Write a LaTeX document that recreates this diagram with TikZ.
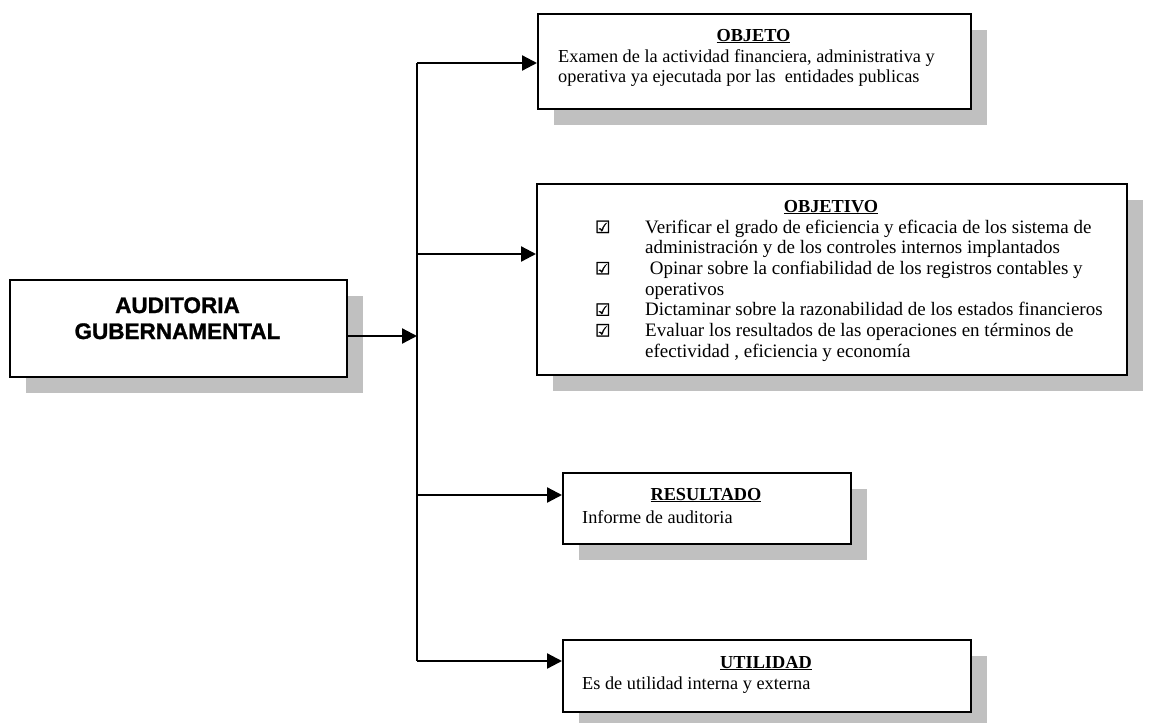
\documentclass[tikz,border=0pt]{standalone}
\usepackage{fontspec}
\setmainfont{Liberation Serif}
\newfontfamily\headfont[FakeBold=1.2]{Liberation Sans Bold}
\newfontfamily\boxsymfont[FakeBold=1.5]{DejaVu Sans}
\usetikzlibrary{arrows.meta,shadows}
\definecolor{shadowgray}{HTML}{C0C0C0}
% ballot box with check used as list bullet
\newcommand{\chk}{{\boxsymfont\fontsize{17}{17}\selectfont\symbol{"2611}}}

\tikzset{
  box/.style={draw=black, line width=2.2pt, fill=white, inner sep=0pt,
    anchor=north west,
    drop shadow={shadow xshift=16pt, shadow yshift=-16pt,
      fill=shadowgray, opacity=1}},
  wire/.style={line width=2.3pt},
  link/.style={line width=2.3pt, -{Triangle[length=15pt,width=15pt]}},
  head/.style={font=\bfseries\fontsize{18.3}{20.7}\selectfont,
    anchor=base, inner sep=0pt},
  body/.style={font=\fontsize{18.3}{20.7}\selectfont,
    anchor=base west, inner sep=0pt},
  listbody/.style={font=\fontsize{19}{20.7}\selectfont,
    anchor=base west, inner sep=0pt},
  maintext/.style={font=\headfont\fontsize{22.5}{26}\selectfont,
    anchor=base, inner sep=0pt}
}

\begin{document}
\begin{tikzpicture}[x=1pt,y=-1pt]
\useasboundingbox (0,0) rectangle (1160,723);

% boxes
\node[box, minimum width=337pt, minimum height=97pt]  (main)      at (9,279)   {};
\node[box, minimum width=433pt, minimum height=95pt]  (objeto)    at (537,13)  {};
\node[box, minimum width=590pt, minimum height=191pt] (objetivo)  at (536,183) {};
\node[box, minimum width=288pt, minimum height=71pt]  (resultado) at (562,472) {};
\node[box, minimum width=408pt, minimum height=72pt]  (utilidad)  at (562,639) {};

% main title
\node[maintext] (mainlabel) at (177.5,313)
  {\begin{tabular}[t]{@{}c@{}}AUDITORIA\\GUBERNAMENTAL\end{tabular}};

% OBJETO
\node[head] (objetoT) at (753.5,41) {\underline{OBJETO}};
\node[body] (objetoB) at (558,62)
  {\begin{tabular}[t]{@{}l@{}}Examen de la actividad financiera, administrativa y\\
   operativa ya ejecutada por las\ \ entidades publicas\end{tabular}};

% OBJETIVO
\node[head] (objetivoT) at (831,212) {\underline{OBJETIVO}};
\node[listbody] (objetivoB) at (595,233)
  {\begin{tabular}[t]{@{}p{50pt}@{}l@{}}
   \chk & Verificar el grado de eficiencia y eficacia de los sistema de\\
        & administración y de los controles internos implantados\\
   \chk & \ Opinar sobre la confiabilidad de los registros contables y\\
        & operativos\\
   \chk & Dictaminar sobre la razonabilidad de los estados financieros\\
   \chk & Evaluar los resultados de las operaciones en términos de\\
        & efectividad , eficiencia y economía
   \end{tabular}};

% RESULTADO
\node[head] (resultadoT) at (706,500) {\underline{RESULTADO}};
\node[body] (resultadoB) at (582,523) {Informe de auditoria};

% UTILIDAD
\node[head] (utilidadT) at (766,668) {\underline{UTILIDAD}};
\node[body] (utilidadB) at (582,689) {Es de utilidad interna y externa};

% branching connector
\coordinate (j1) at (417,63);
\coordinate (j2) at (417,254);
\coordinate (jm) at (417,336);
\coordinate (j3) at (417,495);
\coordinate (j4) at (417,661);

\draw[wire] (j1) -- (j4);
\draw[link] (main.east |- jm) -- (jm);
\draw[link] (j1) -- (j1 -| objeto.west);
\draw[link] (j2) -- (j2 -| objetivo.west);
\draw[link] (j3) -- (j3 -| resultado.west);
\draw[link] (j4) -- (j4 -| utilidad.west);
\end{tikzpicture}
\end{document}
